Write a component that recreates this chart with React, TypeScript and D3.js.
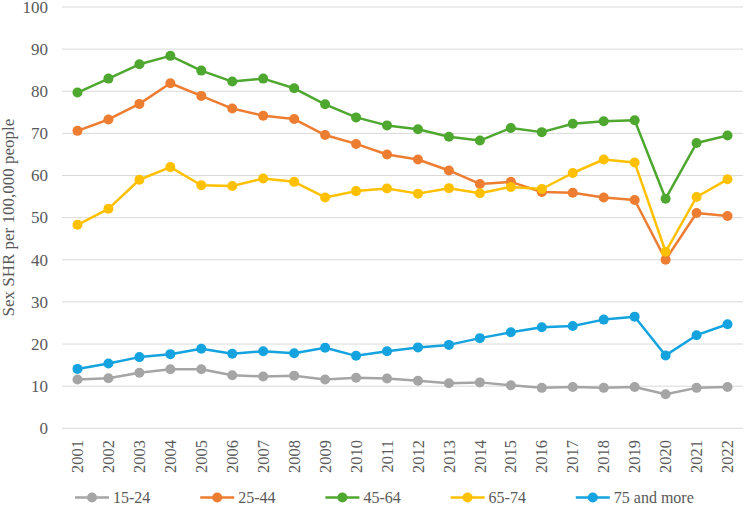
import * as d3 from "d3";

const years = [
  "2001", "2002", "2003", "2004", "2005", "2006", "2007", "2008", "2009", "2010", "2011",
  "2012", "2013", "2014", "2015", "2016", "2017", "2018", "2019", "2020", "2021", "2022",
];

const age15to24 = [11.6, 11.9, 13.2, 14.0, 14.0, 12.6, 12.3, 12.5, 11.6, 12.0, 11.8, 11.3, 10.7, 10.9, 10.2, 9.6, 9.8, 9.6, 9.8, 8.1, 9.6, 9.8];
const age25to44 = [70.6, 73.3, 77.0, 81.9, 78.9, 75.9, 74.2, 73.4, 69.6, 67.5, 65.0, 63.8, 61.2, 58.0, 58.5, 56.1, 55.9, 54.8, 54.2, 40.0, 51.1, 50.4];
const age45to64 = [79.7, 83.0, 86.4, 88.4, 84.9, 82.3, 83.0, 80.7, 76.9, 73.8, 71.9, 71.0, 69.2, 68.3, 71.3, 70.3, 72.3, 72.9, 73.1, 54.5, 67.7, 69.5];
const age65to74 = [48.3, 52.1, 59.0, 62.0, 57.7, 57.5, 59.3, 58.5, 54.8, 56.3, 56.9, 55.7, 57.0, 55.8, 57.3, 56.8, 60.6, 63.8, 63.1, 41.9, 54.9, 59.1];
const age75plus = [14.1, 15.4, 16.9, 17.6, 18.9, 17.7, 18.3, 17.8, 19.1, 17.2, 18.3, 19.2, 19.8, 21.4, 22.8, 24.0, 24.3, 25.8, 26.5, 17.3, 22.1, 24.7];

const seriesNames = ["15-24", "25-44", "45-64", "65-74", "75 and more"];
const seriesValues = [age15to24, age25to44, age45to64, age65to74, age75plus];
const seriesColors = ["#A5A5A5", "#ED7D31", "#4EA72E", "#FFC000", "#14A3DE"];

const yTicks = [0, 10, 20, 30, 40, 50, 60, 70, 80, 90, 100];

const W = 744;
const H = 505;
const textColor = "#595959";

export default function App() {
  const x = d3.scaleBand<string>().domain(years).range([62, 743]);
  const y = d3.scaleLinear().domain([0, 100]).range([428.3, 7]);
  const cx = (yr: string) => (x(yr) ?? 0) + x.bandwidth() / 2;

  const line = d3
    .line<number>()
    .x((_, i) => cx(years[i]))
    .y((d) => y(d));

  const txt = { fontFamily: '"Liberation Serif"', fontSize: 17, fill: textColor };

  return (
    <svg
      width={W}
      height={H}
      style={{ position: "absolute", left: 0, top: 0, background: "#fff" }}
    >
      {/* horizontal gridlines */}
      {yTicks.map((t) => (
        <line key={t} x1={62} x2={743} y1={y(t)} y2={y(t)} stroke="#D9D9D9" strokeWidth={1} />
      ))}

      {/* y tick labels */}
      {yTicks.map((t) => (
        <text key={t} x={48} y={y(t)} dy="0.34em" textAnchor="end" style={txt}>
          {t}
        </text>
      ))}

      {/* y axis title */}
      <text
        transform={`translate(14, ${(y(0) + y(100)) / 2}) rotate(-90)`}
        textAnchor="middle"
        style={txt}
      >
        Sex SHR per 100,000 people
      </text>

      {/* x tick labels */}
      {years.map((yr) => (
        <text
          key={yr}
          transform={`translate(${cx(yr)}, 440) rotate(-90)`}
          textAnchor="end"
          dy="0.34em"
          style={{ ...txt, fontSize: 16.5 }}
        >
          {yr}
        </text>
      ))}

      {/* series */}
      {seriesValues.map((vals, s) => (
        <g key={seriesNames[s]}>
          <path d={line(vals) ?? ""} fill="none" stroke={seriesColors[s]} strokeWidth={2.5} strokeLinejoin="round" />
          {vals.map((v, i) => (
            <circle key={i} cx={cx(years[i])} cy={y(v)} r={5} fill={seriesColors[s]} />
          ))}
        </g>
      ))}

      {/* legend */}
      {seriesNames.map((name, s) => {
        const x0 = 75 + s * 125.2;
        const ly = 497.5;
        return (
          <g key={name}>
            <line x1={x0} x2={x0 + 34} y1={ly} y2={ly} stroke={seriesColors[s]} strokeWidth={2.5} />
            <circle cx={x0 + 17} cy={ly} r={5} fill={seriesColors[s]} />
            <text x={x0 + 38} y={ly} dy="0.33em" style={{ ...txt, fontSize: 16 }}>
              {name}
            </text>
          </g>
        );
      })}
    </svg>
  );
}
